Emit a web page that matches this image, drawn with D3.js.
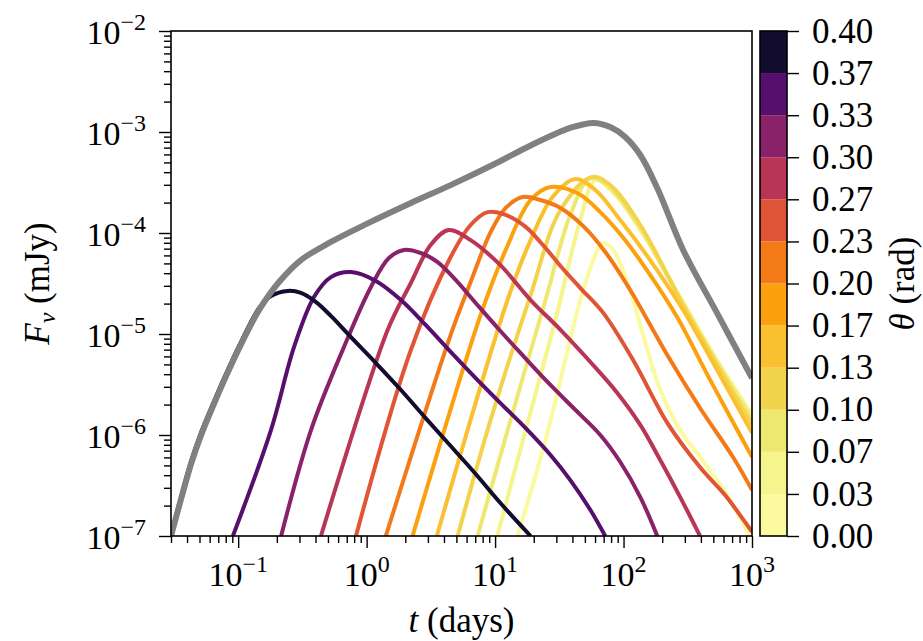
<!DOCTYPE html>
<html>
<head>
<meta charset="utf-8">
<script src="https://cdn.jsdelivr.net/npm/d3@7"></script>
<style>
  body { margin: 0; background: #fff; }
  text { font-family: 'Liberation Serif', 'DejaVu Serif', serif; fill: #000; }
</style>
</head>
<body>
<svg id="chart" width="923" height="641"></svg>
<script>
// colorbar: observer angle bins (rad)
const thetaTicks = [0, 0.0333, 0.0667, 0.1, 0.1333, 0.1667, 0.2, 0.2333, 0.2667, 0.3, 0.3333, 0.3667, 0.4];
const thetaLabels = ['0.00', '0.03', '0.07', '0.10', '0.13', '0.17', '0.20', '0.23', '0.27', '0.30', '0.33', '0.37', '0.40'];
const binColors = ['#fbfa9e', '#f6f48c', '#efe870', '#f3d34b', '#fbc02f', '#fca10e',
                   '#f47a18', '#e05536', '#b93556', '#8a226a', '#560f6d', '#120c2e'];

const xTicks = [0.1, 1, 10, 100, 1000];
const yTicks = [1e-7, 1e-6, 1e-5, 1e-4, 1e-3, 1e-2];

// light curves [t (days), F (mJy)], one per angle bin
const lcTheta00 = [[14.96, 1e-7], [24.7, 8.9e-7], [46.1, 2.17e-5], [60.4, 6.05e-5], [68.4, 7.96e-5],
  [83.2, 6.8e-5], [108.9, 3.05e-5], [142, 9.8e-6], [193, 2.79e-6], [276, 1.12e-6], [394, 6.05e-7],
  [617, 2.73e-7], [963, 1e-7]];
const lcTheta03 = [[10.4, 1e-7], [17.3, 1.12e-6], [29.5, 1.38e-5], [46.1, 1.35e-4], [60.4, 3.35e-4],
  [86.3, 2.38e-4], [135, 1.07e-4], [291, 2.07e-5], [535, 5.5e-6], [1000, 1.58e-6]];
const lcTheta07 = [[7.31, 1e-7], [13.2, 1.41e-6], [24.7, 2.17e-5], [38.5, 1.51e-4], [55.2, 3.5e-4],
  [78.8, 2.79e-4], [135, 1.12e-4], [291, 1.94e-5], [535, 5.16e-6], [1000, 1.41e-6]];
const lcTheta10 = [[5.11, 1e-7], [9.23, 1.41e-6], [18.9, 2.43e-5], [32.3, 1.69e-4], [57.1, 3.58e-4],
  [78.8, 2.98e-4], [135, 1.2e-4], [291, 1.94e-5], [535, 4.93e-6], [1000, 1.26e-6]];
const lcTheta13 = [[3.52, 1e-7], [12.5, 2.17e-5], [18.9, 8.5e-5], [28, 2.27e-4], [42.2, 3.43e-4],
  [60.3, 2.67e-4], [94, 1.35e-4], [161, 5.4e-5], [291, 1.73e-5], [535, 4.4e-6], [1000, 1.05e-6]];
const lcTheta17 = [[2.28, 1e-7], [7.71, 1.54e-5], [12.1, 6.8e-5], [18.9, 2.12e-4], [27, 2.85e-4],
  [43.7, 2.49e-4], [65.9, 1.61e-4], [103, 8.5e-5], [161, 3.84e-5], [261, 1.47e-5], [472, 3.51e-6],
  [1000, 6.05e-7]];
const lcTheta20 = [[1.41, 1e-7], [4.51, 9.8e-6], [6.45, 3.27e-5], [9.23, 1.02e-4], [12.1, 1.77e-4],
  [16.4, 2.27e-4], [22.5, 2.12e-4], [32.3, 1.77e-4], [48.6, 1.17e-4], [72.1, 6.49e-5], [112.7, 2.73e-5],
  [219, 6.19e-6], [394, 1.85e-6], [711, 6.05e-7], [1000, 2.85e-7]];
const lcTheta23 = [[0.826, 1e-7], [2.21, 6.95e-6], [4.51, 5.78e-5], [6.45, 1.2e-4], [8.75, 1.61e-4],
  [12.1, 1.51e-4], [17.3, 1.15e-4], [24.7, 7.1e-5], [32.3, 4.71e-5], [46.1, 2.85e-5], [69.7, 1.61e-5],
  [119, 5.5e-6], [219, 1.32e-6], [394, 4.8e-7], [617, 2.55e-7], [807, 1.61e-7], [1000, 1.1e-7]];
const lcTheta27 = [[0.441, 1e-7], [1.46, 1.1e-5], [2.21, 3.2e-5], [3.15, 7.6e-5], [4.35, 1.07e-4],
  [6.45, 8.5e-5], [11, 4.8e-5], [18.9, 2.17e-5], [32.3, 1.1e-5], [55.2, 5.28e-6], [89.4, 2.61e-6],
  [135, 1.26e-6], [193, 5.65e-7], [276, 2.43e-7], [394, 1e-7]];
const lcTheta30 = [[0.216, 1e-7], [0.369, 1.12e-6], [0.665, 7.4e-6], [1.08, 2.92e-5], [1.49, 5.65e-5],
  [1.95, 6.8e-5], [2.64, 6.34e-5], [3.57, 5.16e-5], [4.93, 3.43e-5], [7.06, 2.03e-5], [11, 1.07e-5],
  [15, 6.95e-6], [24.7, 3.51e-6], [42.2, 1.77e-6], [65.9, 1.0e-6], [94.3, 5.4e-7], [135, 2.43e-7],
  [183, 1e-7]];
const lcTheta33 = [[0.091, 1e-7], [0.18, 1.12e-6], [0.272, 7.4e-6], [0.389, 2.32e-5], [0.527, 3.66e-5],
  [0.755, 4.1e-5], [1.18, 3.35e-5], [1.85, 2.17e-5], [2.88, 1.23e-5], [4.51, 6.64e-6], [7.06, 3.66e-6],
  [11, 2.07e-6], [17.3, 1.17e-6], [27, 6.34e-7], [38.5, 3.58e-7], [55.2, 1.81e-7], [72, 1e-7]];
const lcTheta37 = [[0.03, 1e-7], [0.0361, 2.5e-7], [0.0432, 5.6e-7], [0.0516, 1.07e-6], [0.064, 2.07e-6],
  [0.0807, 4.08e-6], [0.1055, 8.41e-6], [0.1456, 1.81e-5], [0.18, 2.38e-5], [0.244, 2.67e-5],
  [0.308, 2.55e-5], [0.404, 2.07e-5], [0.527, 1.51e-5], [0.755, 9.3e-6], [1.18, 5.16e-6],
  [1.85, 2.79e-6], [2.88, 1.47e-6], [4.51, 7.78e-7], [7.06, 4.11e-7], [11, 2.12e-7], [18.9, 1e-7]];
// total flux
const lcTotal = [[0.03, 1e-7], [0.0361, 2.38e-7], [0.0432, 5.28e-7], [0.0516, 1.01e-6], [0.064, 1.96e-6],
  [0.0807, 3.85e-6], [0.1055, 7.94e-6], [0.1456, 1.73e-5], [0.208, 3.27e-5], [0.308, 5.4e-5],
  [0.527, 8.15e-5], [1.0, 1.23e-4], [2.21, 1.98e-4], [4.51, 2.98e-4], [9.9, 4.82e-4], [17.3, 6.95e-4],
  [27, 9.12e-4], [38.5, 1.1e-3], [58.2, 1.23e-3], [78.9, 1.12e-3], [103, 8.92e-4], [135, 5.92e-4],
  [183, 2.79e-4], [291, 6.8e-5], [535, 1.61e-5], [1000, 3.66e-6]];

const binCurves = [lcTheta00, lcTheta03, lcTheta07, lcTheta10, lcTheta13, lcTheta17,
                   lcTheta20, lcTheta23, lcTheta27, lcTheta30, lcTheta33, lcTheta37];

const svg = d3.select('#chart');
const plot = { left: 171, right: 752, top: 31, bottom: 536 };
const cbar = { left: 760, right: 787 };
const serif = "'Liberation Serif', 'DejaVu Serif', serif";

const x = d3.scaleLog()
  .domain([0.03, 1000])
  .range([plot.left, plot.right]);
const y = d3.scaleLog()
  .domain([1e-7, 1e-2])
  .range([plot.bottom, plot.top]);
const c = d3.scaleLinear()
  .domain([0, 0.4])
  .range([plot.bottom, plot.top]);

const minorTicks = (scale) => {
  const [lo, hi] = scale.domain();
  const out = [];
  for (let e = Math.floor(Math.log10(lo)); e < Math.ceil(Math.log10(hi)); e++) {
    for (let m = 2; m <= 9; m++) {
      const v = m * Math.pow(10, e);
      if (v >= lo && v <= hi) out.push(v);
    }
  }
  return out;
};

svg.append('defs')
  .append('clipPath')
    .attr('id', 'plotClip')
  .append('rect')
    .attr('x', plot.left)
    .attr('y', plot.top)
    .attr('width', plot.right - plot.left)
    .attr('height', plot.bottom - plot.top);

// curves
const line = d3.line()
  .x(d => x(d[0]))
  .y(d => y(d[1]))
  .curve(d3.curveCatmullRom.alpha(0.5));

const curvesG = svg
  .append('g')
    .attr('clip-path', 'url(#plotClip)');

binCurves.forEach((pts, i) => {
  curvesG
    .append('path')
      .attr('d', line(pts))
      .attr('fill', 'none')
      .attr('stroke', binColors[i])
      .attr('stroke-width', 4)
      .attr('stroke-linejoin', 'round');
});

curvesG
  .append('path')
    .attr('d', line(lcTotal))
    .attr('fill', 'none')
    .attr('stroke', '#808080')
    .attr('stroke-width', 6)
    .attr('stroke-linejoin', 'round');

// axes
const styleTicks = (g) => {
  g.select('.domain').remove();
  g.selectAll('line').attr('stroke', '#000').attr('stroke-width', 1.4);
};

svg.append('g')
    .attr('transform', `translate(0, ${plot.bottom})`)
    .call(d3.axisBottom(x).tickValues(xTicks).tickSize(12).tickFormat(''))
    .call(styleTicks);
svg.append('g')
    .attr('transform', `translate(0, ${plot.bottom})`)
    .call(d3.axisBottom(x).tickValues(minorTicks(x)).tickSize(7).tickFormat(''))
    .call(styleTicks);
svg.append('g')
    .attr('transform', `translate(${plot.left}, 0)`)
    .call(d3.axisLeft(y).tickValues(yTicks).tickSize(12).tickFormat(''))
    .call(styleTicks);
svg.append('g')
    .attr('transform', `translate(${plot.left}, 0)`)
    .call(d3.axisLeft(y).tickValues(minorTicks(y)).tickSize(7).tickFormat(''))
    .call(styleTicks);

svg.append('rect')
    .attr('x', plot.left)
    .attr('y', plot.top)
    .attr('width', plot.right - plot.left)
    .attr('height', plot.bottom - plot.top)
    .attr('fill', 'none')
    .attr('stroke', '#000')
    .attr('stroke-width', 1.6);

const powLabel = (sel, v) => {
  const e = Math.round(Math.log10(v));
  sel.append('tspan')
      .attr('font-size', 34)
      .text('10');
  sel.append('tspan')
      .attr('font-size', 24)
      .attr('dy', -14)
      .text(String(e).replace('-', '\u2212'));
};

xTicks.forEach(v => {
  svg.append('text')
      .attr('x', x(v))
      .attr('y', 586)
      .attr('text-anchor', 'middle')
      .call(powLabel, v);
});

yTicks.forEach(v => {
  svg.append('text')
      .attr('x', 146)
      .attr('y', y(v) + 13)
      .attr('text-anchor', 'end')
      .call(powLabel, v);
});

// axis titles
const xTitle = svg.append('text')
    .attr('x', (plot.left + plot.right) / 2)
    .attr('y', 632)
    .attr('text-anchor', 'middle')
    .attr('font-size', 35);
xTitle.append('tspan').attr('font-style', 'italic').text('t');
xTitle.append('tspan').text(' (days)');

const yTitle = svg.append('text')
    .attr('transform', `translate(49, ${(plot.top + plot.bottom) / 2}) rotate(-90)`)
    .attr('text-anchor', 'middle')
    .attr('font-size', 35);
yTitle.append('tspan').attr('font-style', 'italic').text('F');
yTitle.append('tspan').attr('font-style', 'italic').attr('font-size', 24).attr('dy', 6).text('\u03bd');
yTitle.append('tspan').attr('dy', -6).text(' (mJy)');

// colorbar
const cbarG = svg.append('g');
binColors.forEach((col, i) => {
  cbarG.append('rect')
      .attr('x', cbar.left)
      .attr('y', c(thetaTicks[i + 1]))
      .attr('width', cbar.right - cbar.left)
      .attr('height', c(thetaTicks[i]) - c(thetaTicks[i + 1]))
      .attr('fill', col);
});
cbarG.append('rect')
    .attr('x', cbar.left)
    .attr('y', plot.top)
    .attr('width', cbar.right - cbar.left)
    .attr('height', plot.bottom - plot.top)
    .attr('fill', 'none')
    .attr('stroke', '#000')
    .attr('stroke-width', 1.6);

svg.append('g')
    .attr('transform', `translate(${cbar.right}, 0)`)
    .call(d3.axisRight(c).tickValues(thetaTicks).tickSize(12).tickPadding(13)
      .tickFormat((d, i) => thetaLabels[i]))
    .call(styleTicks)
    .call(g => g.selectAll('text')
      .attr('font-family', serif)
      .attr('font-size', 35)
      .attr('fill', '#000'));

const cTitle = svg.append('text')
    .attr('transform', `translate(914, ${(plot.top + plot.bottom) / 2}) rotate(-90)`)
    .attr('text-anchor', 'middle')
    .attr('font-size', 35);
cTitle.append('tspan').attr('font-style', 'italic').text('\u03b8');
cTitle.append('tspan').text(' (rad)');
</script>
</body>
</html>
